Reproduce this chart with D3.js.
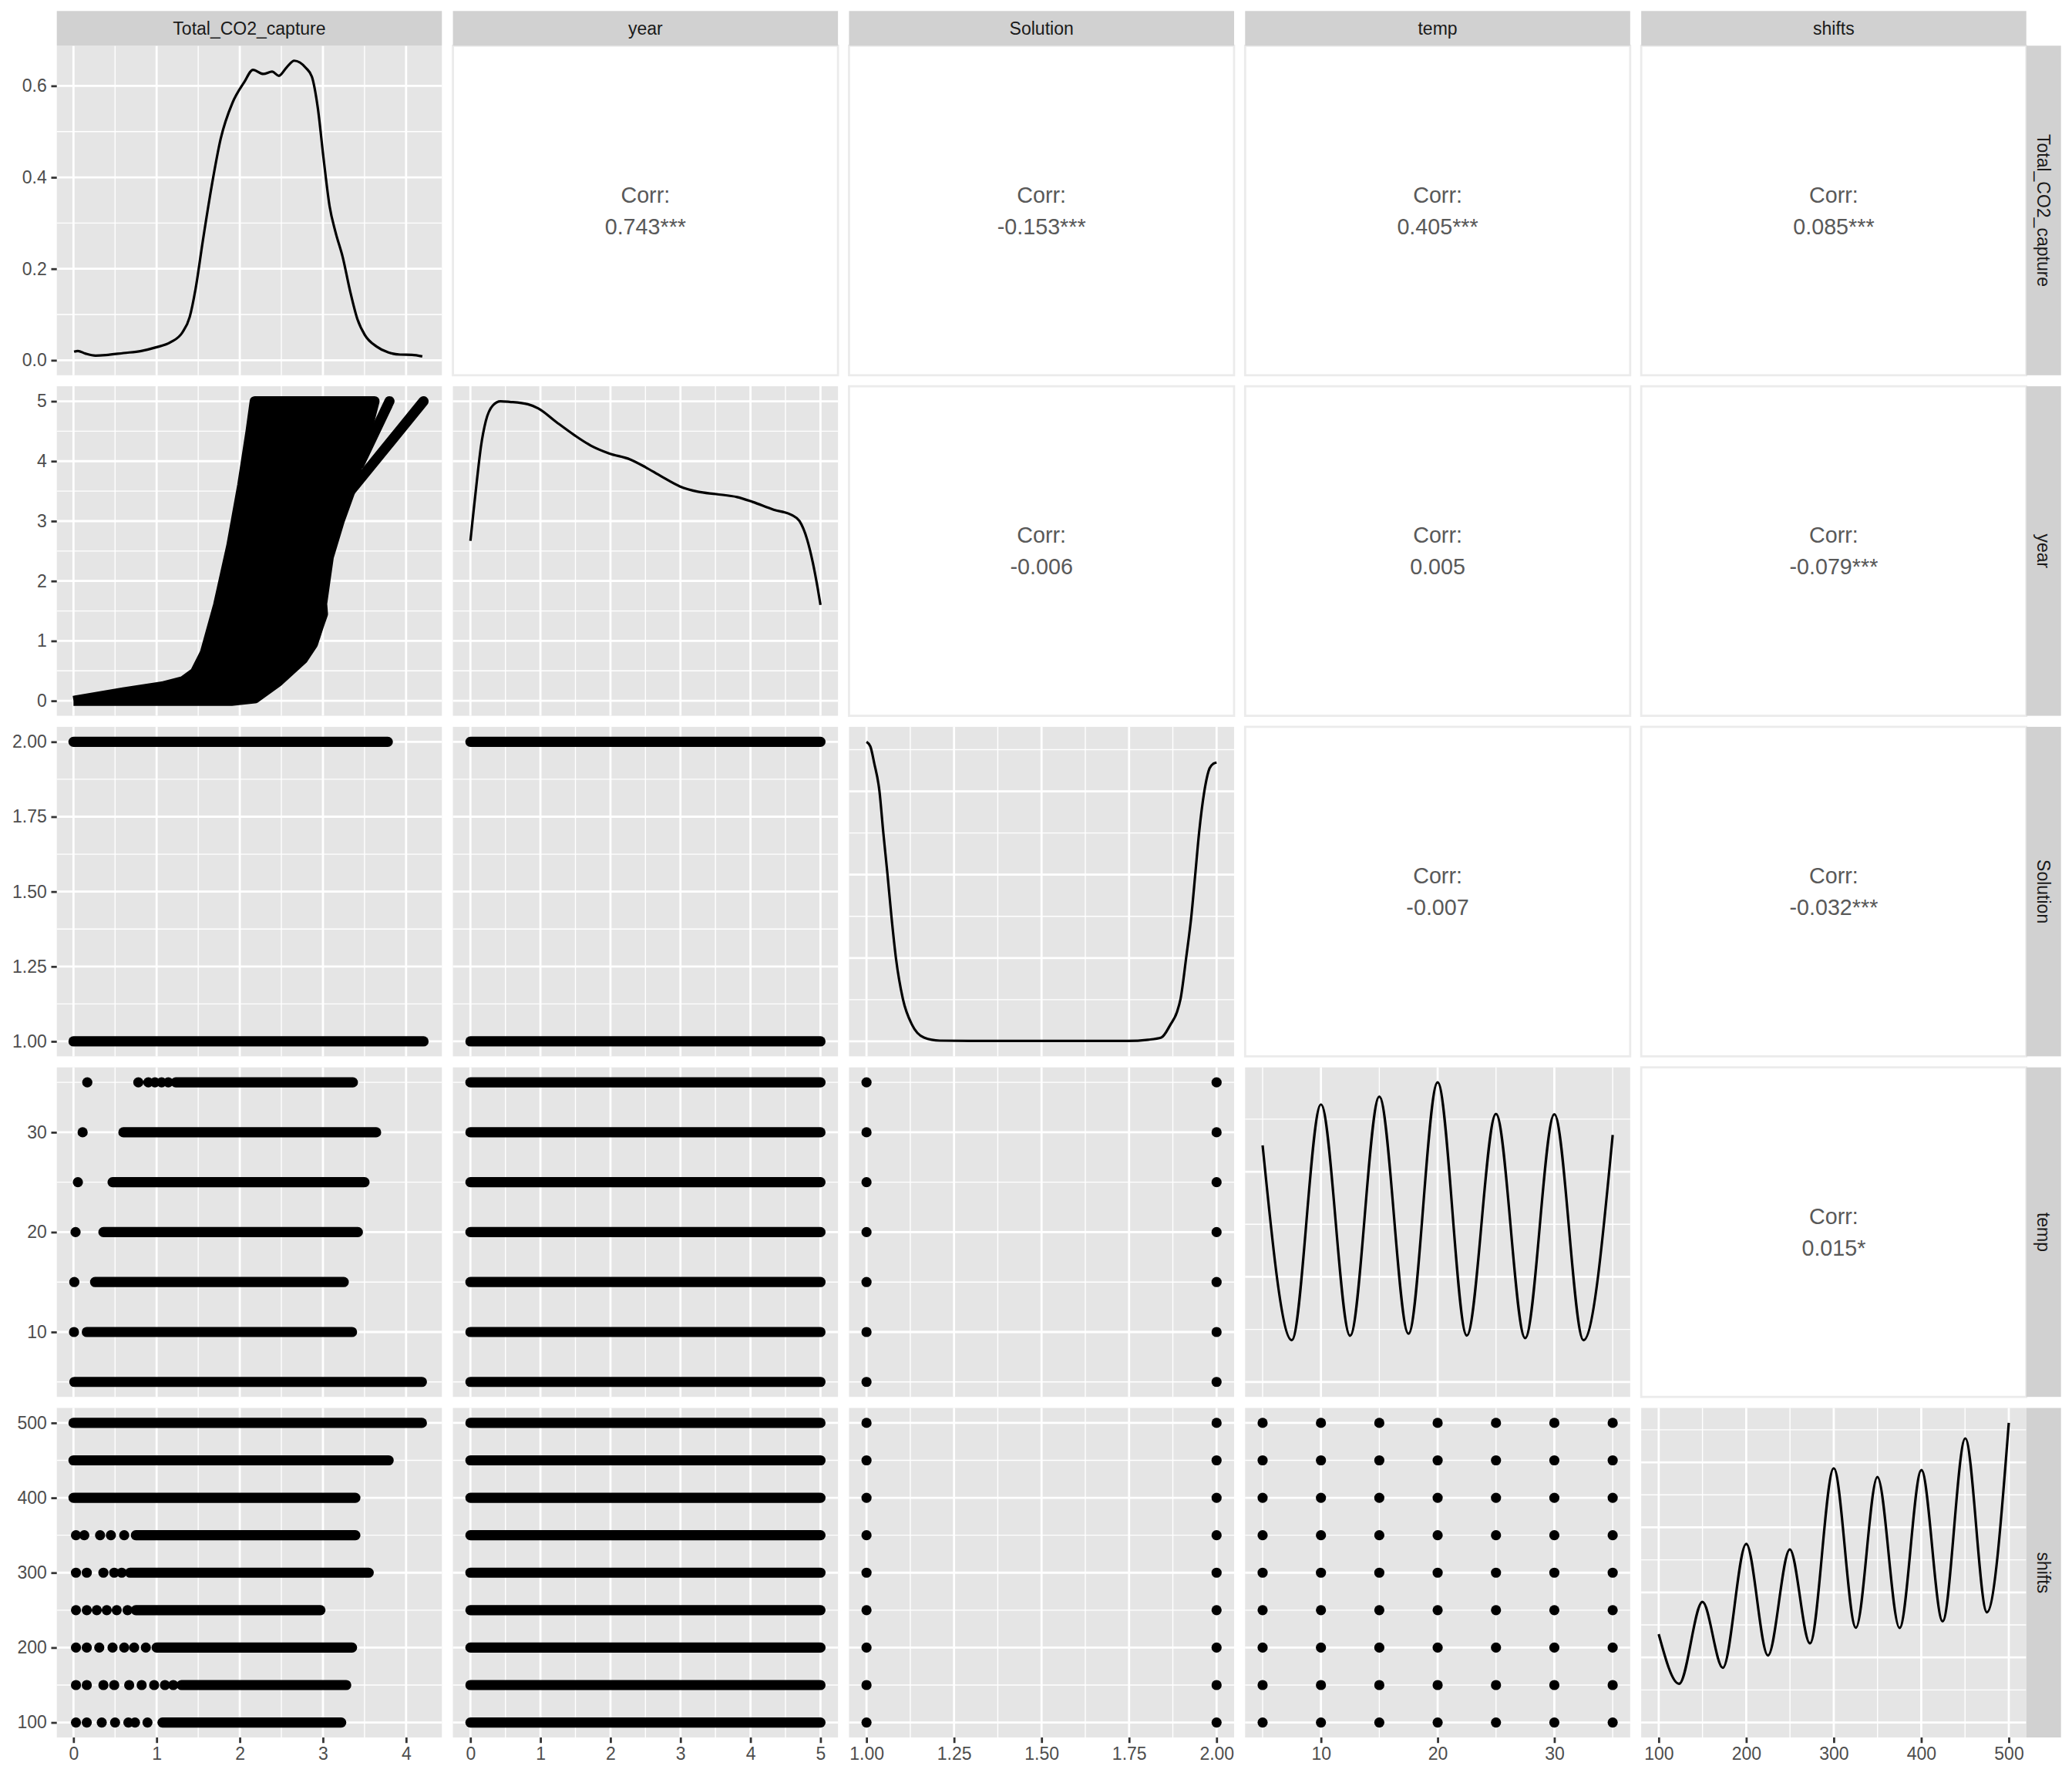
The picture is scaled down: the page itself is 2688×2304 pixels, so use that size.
<!DOCTYPE html>
<html><head><meta charset="utf-8">
<script src="https://cdn.jsdelivr.net/npm/d3@7"></script>
<style>body{margin:0;background:#fff}svg{display:block}</style>
</head><body><svg id="chart" width="2688" height="2304"></svg>
<script>
// ---------------- DATA ----------------
const variables = ["Total_CO2_capture", "year", "Solution", "temp", "shifts"];
const dataMin = [0.01, 0, 1, 5, 100];
const dataMax = [4.22, 5, 2, 35, 500];
const majorTicks = [[0,1,2,3,4],[0,1,2,3,4,5],[1,1.25,1.5,1.75,2],[10,20,30],[100,200,300,400,500]];
const minorTicks = [[0.5,1.5,2.5,3.5],[0.5,1.5,2.5,3.5,4.5],[1.125,1.375,1.625,1.875],[5,15,25,35],[150,250,350,450]];
const tickFormats = [".0f", ".0f", ".2f", ".0f", ".0f"];

// correlation panels (upper triangle)
const corrRow = [0,0,0,0,1,1,1,2,2,3];
const corrCol = [1,2,3,4,2,3,4,3,4,4];
const corrText = ["0.743***","-0.153***","0.405***","0.085***","-0.006","0.005","-0.079***","-0.007","-0.032***","0.015*"];

// diagonal densities: [x, density]
const densCO2 = [[0.007,0.0186],[0.053,0.0203],[0.142,0.0147],[0.265,0.0102],[0.389,0.0113],[0.602,0.0158],[0.814,0.0203],[0.991,0.0282],[1.168,0.0395],[1.31,0.0609],[1.398,0.0948],[1.469,0.157],[1.558,0.264],[1.664,0.383],[1.77,0.484],[1.912,0.563],[2.053,0.608],[2.159,0.635],[2.283,0.626],[2.389,0.631],[2.47,0.622],[2.566,0.641],[2.655,0.655],[2.796,0.639],[2.867,0.62],[2.938,0.552],[3.009,0.439],[3.08,0.337],[3.15,0.281],[3.239,0.2246],[3.327,0.151],[3.416,0.089],[3.504,0.0553],[3.646,0.0299],[3.788,0.0169],[3.929,0.0124],[4.071,0.0119],[4.195,0.0085]];
const densYear = [[0,0.1335],[0.037,0.154],[0.093,0.184],[0.15,0.212],[0.22,0.2335],[0.32,0.2465],[0.43,0.25],[0.56,0.2495],[0.82,0.2475],[0.97,0.244],[1.23,0.2325],[1.49,0.2215],[1.72,0.213],[1.98,0.2065],[2.28,0.2015],[2.5,0.195],[2.72,0.1875],[2.99,0.179],[3.25,0.1745],[3.51,0.1725],[3.81,0.17],[4.03,0.166],[4.33,0.1595],[4.59,0.155],[4.7,0.15],[4.81,0.1345],[4.89,0.1155],[4.96,0.094],[5.0,0.08]];
const densSolution = [[1.0,3.594],[1.011,3.538],[1.022,3.338],[1.037,3.0],[1.048,2.502],[1.06,2.0],[1.071,1.505],[1.084,1.0],[1.104,0.508],[1.13,0.2],[1.164,0.046],[1.209,0.009],[1.298,0.006],[1.745,0.006],[1.805,0.02],[1.842,0.046],[1.868,0.2],[1.887,0.354],[1.897,0.508],[1.913,1.0],[1.928,1.505],[1.939,2.0],[1.95,2.502],[1.965,3.0],[1.98,3.277],[1.991,3.332],[2.0,3.345]];
const densTemp = [[5,0.045],[7.5,0.00795],[10,0.0528],[12.5,0.00878],[15,0.0543],[17.5,0.00917],[20,0.057],[22.5,0.00883],[25,0.051],[27.5,0.00834],[30,0.0509],[32.5,0.00795],[35,0.047]];
const densShifts = [[100,0.001358],[123.3,0.000594],[150,0.001853],[173.3,0.00084],[200,0.002745],[224.8,0.00103],[249.8,0.00266],[272.8,0.001216],[300,0.003909],[325.3,0.001457],[349.9,0.003774],[375.2,0.001453],[400.2,0.003881],[424.4,0.001556],[450.3,0.004368],[475,0.001695],[500,0.004606]];
const densMajor = [[0,0.2,0.4,0.6],[0,0.05,0.1,0.15,0.2,0.25],[0,1,2,3],[0,0.02,0.04],[0,0.001,0.002,0.003,0.004]];
const densMinor = [[0.1,0.3,0.5],[0.025,0.075,0.125,0.175,0.225],[0.5,1.5,2.5,3.5],[0.01,0.03,0.05],[0.0005,0.0015,0.0025,0.0035,0.0045]];

// discrete levels
const solutionLevels = [1, 2];
const tempLevels = [5, 10, 15, 20, 25, 30, 35];
const shiftLevels = [100, 150, 200, 250, 300, 350, 400, 450, 500];

// year vs Total_CO2 point cloud: outline of the dense region [CO2, year] and the two outlying trails
const cloudYearCO2 = [[0,0],[0.6,0.14],[1.07,0.24],[1.32,0.33],[1.46,0.47],[1.58,0.8],[1.74,1.6],[1.9,2.6],[2.03,3.6],[2.13,4.5],[2.18,5.0],[3.62,5.0],[3.55,4.62],[3.45,4.1],[3.33,3.5],[3.2,3.0],[3.07,2.4],[2.99,1.62],[3.0,1.45],[2.95,1.25],[2.88,0.95],[2.76,0.7],[2.46,0.32],[2.18,0.04],[1.9,0],[0,0]];
const trailsYearCO2 = [[[3.33,3.5],[4.21,5.0]],[[3.44,3.95],[3.8,5.0]]];

// horizontal bands of overlapping points: [level, xStart, xEnd]
const bandsSolutionCO2 = [[2,0,3.78],[1,0,4.21]];
const bandsSolutionYear = [[2,0,5],[1,0,5]];
const bandsTempCO2 = [[35,1.23,3.36],[30,0.6,3.64],[25,0.47,3.5],[20,0.36,3.42],[15,0.26,3.25],[10,0.16,3.35],[5,0.01,4.19]];
const dotsTempCO2 = [[35,0.166],[35,0.78],[35,0.9],[35,0.98],[35,1.06],[35,1.14],[30,0.11],[25,0.053],[20,0.025],[15,0.01],[10,0.006]];
const bandsTempYear = [[35,0,5],[30,0,5],[25,0,5],[20,0,5],[15,0,5],[10,0,5],[5,0,5]];
const bandsShiftsCO2 = [[500,0,4.19],[450,0,3.79],[400,0,3.39],[350,0.75,3.39],[300,0.68,3.55],[250,0.75,2.97],[200,1.0,3.35],[150,1.3,3.28],[100,1.07,3.22]];
const dotsShiftsCO2 = [[350,0.03],[350,0.13],[350,0.32],[350,0.45],[350,0.61],[300,0.03],[300,0.16],[300,0.36],[300,0.49],[300,0.58],[250,0.03],[250,0.16],[250,0.28],[250,0.4],[250,0.52],[250,0.65],[200,0.03],[200,0.16],[200,0.31],[200,0.47],[200,0.61],[200,0.73],[200,0.87],[150,0.03],[150,0.16],[150,0.36],[150,0.49],[150,0.67],[150,0.82],[150,0.97],[150,1.1],[150,1.2],[100,0.03],[100,0.16],[100,0.34],[100,0.5],[100,0.66],[100,0.74],[100,0.89]];
const bandsShiftsYear = [[500,0,5],[450,0,5],[400,0,5],[350,0,5],[300,0,5],[250,0,5],[200,0,5],[150,0,5],[100,0,5]];

// ---------------- LAYOUT ----------------
const W = 2688, H = 2304;
const margin = 14.3, stripSize = 45, gap = 14.3;
const leftEdge = 73.7, topEdge = margin + stripSize;
const rightEdge = W - margin - stripSize, bottomEdge = 2254;
const pw = (rightEdge - leftEdge - 4 * gap) / 5;
const ph = (bottomEdge - topEdge - 4 * gap) / 5;
const px = j => leftEdge + j * (pw + gap);
const py = i => topEdge + i * (ph + gap);
const font = "'Liberation Sans', Arial, Helvetica, sans-serif";
const ptR = 6.6;
const majorW = 2.78, minorW = 1.39;
const panelBg = "#E5E5E5";
const stripBg = "#D1D1D1";

const expand = (a, b) => { const r = b - a; return [a - 0.05 * r, b + 0.05 * r]; };
const xScales = variables.map((v, j) => d3.scaleLinear().domain(expand(dataMin[j], dataMax[j])).range([0, pw]));
const yScales = variables.map((v, i) => d3.scaleLinear().domain(expand(dataMin[i], dataMax[i])).range([ph, 0]));
const densData = [densCO2, densYear, densSolution, densTemp, densShifts];
const densScales = densData.map(d => { const m = d3.max(d, p => p[1]); return d3.scaleLinear().domain([-0.05 * m, 1.05 * m]).range([ph, 0]); });

const svg = d3.select("#chart");
svg.append("rect").attr("width", W).attr("height", H).attr("fill", "#fff");

function gridPanel(g, xs, ys, xMaj, xMin, yMaj, yMin) {
  g.append("rect").attr("width", pw).attr("height", ph).attr("fill", panelBg);
  g.selectAll(null).data(yMin).enter().append("line")
    .attr("x1", 0).attr("x2", pw).attr("y1", d => ys(d)).attr("y2", d => ys(d))
    .attr("stroke", "#fff").attr("stroke-width", minorW);
  g.selectAll(null).data(xMin).enter().append("line")
    .attr("y1", 0).attr("y2", ph).attr("x1", d => xs(d)).attr("x2", d => xs(d))
    .attr("stroke", "#fff").attr("stroke-width", minorW);
  g.selectAll(null).data(yMaj).enter().append("line")
    .attr("x1", 0).attr("x2", pw).attr("y1", d => ys(d)).attr("y2", d => ys(d))
    .attr("stroke", "#fff").attr("stroke-width", majorW);
  g.selectAll(null).data(xMaj).enter().append("line")
    .attr("y1", 0).attr("y2", ph).attr("x1", d => xs(d)).attr("x2", d => xs(d))
    .attr("stroke", "#fff").attr("stroke-width", majorW);
}

function drawBands(g, xs, ys, bands) {
  g.selectAll(null).data(bands).enter().append("line")
    .attr("x1", d => xs(d[1])).attr("x2", d => xs(d[2]))
    .attr("y1", d => ys(d[0])).attr("y2", d => ys(d[0]))
    .attr("stroke", "#000").attr("stroke-width", 2 * ptR).attr("stroke-linecap", "round");
}
function drawDots(g, xs, ys, pts, xi, yi) {
  g.selectAll(null).data(pts).enter().append("circle")
    .attr("cx", d => xs(d[xi])).attr("cy", d => ys(d[yi])).attr("r", ptR).attr("fill", "#000");
}

for (let i = 0; i < 5; i++) {
  for (let j = 0; j < 5; j++) {
    const g = svg.append("g").attr("transform", `translate(${px(j)},${py(i)})`);
    const xs = xScales[j], ys = yScales[i];
    if (j > i) {
      // correlation panel
      g.append("rect").attr("x", 0).attr("y", 0).attr("width", pw).attr("height", ph)
        .attr("fill", "#fff").attr("stroke", "#EBEBEB").attr("stroke-width", majorW);
      const k = corrRow.findIndex((r, idx) => r === i && corrCol[idx] === j);
      const t = g.append("text").attr("x", pw / 2).attr("text-anchor", "middle")
        .attr("font-family", font).attr("font-size", 28.7).attr("fill", "#595959");
      t.append("tspan").attr("x", pw / 2).attr("y", ph / 2 - 20.5).attr("dominant-baseline", "central").text("Corr:");
      t.append("tspan").attr("x", pw / 2).attr("y", ph / 2 + 20.5).attr("dominant-baseline", "central").text(corrText[k]);
      continue;
    }
    if (i === j) {
      const ds = densScales[i];
      gridPanel(g, xs, ds, majorTicks[j], minorTicks[j], densMajor[i], densMinor[i]);
      g.append("path").datum(densData[i])
        .attr("d", d3.line().x(d => xs(d[0])).y(d => ds(d[1])).curve(d3.curveMonotoneX))
        .attr("fill", "none").attr("stroke", "#000").attr("stroke-width", 3.2).attr("stroke-linejoin", "round");
      continue;
    }
    gridPanel(g, xs, ys, majorTicks[j], minorTicks[j], majorTicks[i], minorTicks[i]);
    const key = i + "," + j;
    if (key === "1,0") {
      g.append("path").datum(cloudYearCO2)
        .attr("d", d3.line().x(d => xs(d[0])).y(d => ys(d[1])))
        .attr("fill", "#000").attr("stroke", "#000").attr("stroke-width", 2 * ptR).attr("stroke-linejoin", "round");
      g.selectAll(null).data(trailsYearCO2).enter().append("path")
        .attr("d", d3.line().x(d => xs(d[0])).y(d => ys(d[1])))
        .attr("fill", "none").attr("stroke", "#000").attr("stroke-width", 2 * ptR).attr("stroke-linecap", "round");
    } else if (key === "2,0") {
      drawBands(g, xs, ys, bandsSolutionCO2);
    } else if (key === "2,1") {
      drawBands(g, xs, ys, bandsSolutionYear);
    } else if (key === "3,0") {
      drawBands(g, xs, ys, bandsTempCO2);
      drawDots(g, xs, ys, dotsTempCO2, 1, 0);
    } else if (key === "3,1") {
      drawBands(g, xs, ys, bandsTempYear);
    } else if (key === "3,2") {
      drawDots(g, xs, ys, d3.cross(solutionLevels, tempLevels), 0, 1);
    } else if (key === "4,0") {
      drawBands(g, xs, ys, bandsShiftsCO2);
      drawDots(g, xs, ys, dotsShiftsCO2, 1, 0);
    } else if (key === "4,1") {
      drawBands(g, xs, ys, bandsShiftsYear);
    } else if (key === "4,2") {
      drawDots(g, xs, ys, d3.cross(solutionLevels, shiftLevels), 0, 1);
    } else if (key === "4,3") {
      drawDots(g, xs, ys, d3.cross(tempLevels, shiftLevels), 0, 1);
    }
  }
}

// strips
for (let j = 0; j < 5; j++) {
  const g = svg.append("g").attr("transform", `translate(${px(j)},${margin})`);
  g.append("rect").attr("width", pw).attr("height", stripSize).attr("fill", stripBg);
  g.append("text").attr("x", pw / 2).attr("y", stripSize / 2).attr("text-anchor", "middle")
    .attr("dominant-baseline", "central").attr("font-family", font).attr("font-size", 23)
    .attr("fill", "#1A1A1A").text(variables[j]);
}
for (let i = 0; i < 5; i++) {
  const g = svg.append("g").attr("transform", `translate(${rightEdge},${py(i)})`);
  g.append("rect").attr("width", stripSize).attr("height", ph).attr("fill", stripBg);
  g.append("text").attr("transform", `translate(${stripSize / 2},${ph / 2}) rotate(90)`)
    .attr("text-anchor", "middle").attr("dominant-baseline", "central")
    .attr("font-family", font).attr("font-size", 23).attr("fill", "#1A1A1A").text(variables[i]);
}

// axes
function styleAxis(sel) {
  sel.select(".domain").remove();
  sel.selectAll(".tick line").attr("stroke", "#333333").attr("stroke-width", majorW);
  sel.selectAll(".tick text").attr("fill", "#4D4D4D").attr("font-size", 23).attr("font-family", font);
}
for (let i = 0; i < 5; i++) {
  const sc = i === 0 ? densScales[0] : yScales[i];
  const ticks = i === 0 ? densMajor[0] : majorTicks[i];
  const fmt = i === 0 ? d3.format(".1f") : d3.format(tickFormats[i]);
  svg.append("g").attr("transform", `translate(${leftEdge},${py(i)})`)
    .call(d3.axisLeft(sc).tickValues(ticks).tickFormat(fmt).tickSize(7.2).tickPadding(5.7))
    .call(styleAxis);
}
for (let j = 0; j < 5; j++) {
  svg.append("g").attr("transform", `translate(${px(j)},${bottomEdge})`)
    .call(d3.axisBottom(xScales[j]).tickValues(majorTicks[j]).tickFormat(d3.format(tickFormats[j])).tickSize(7.2).tickPadding(5.7))
    .call(styleAxis);
}
</script></body></html>
